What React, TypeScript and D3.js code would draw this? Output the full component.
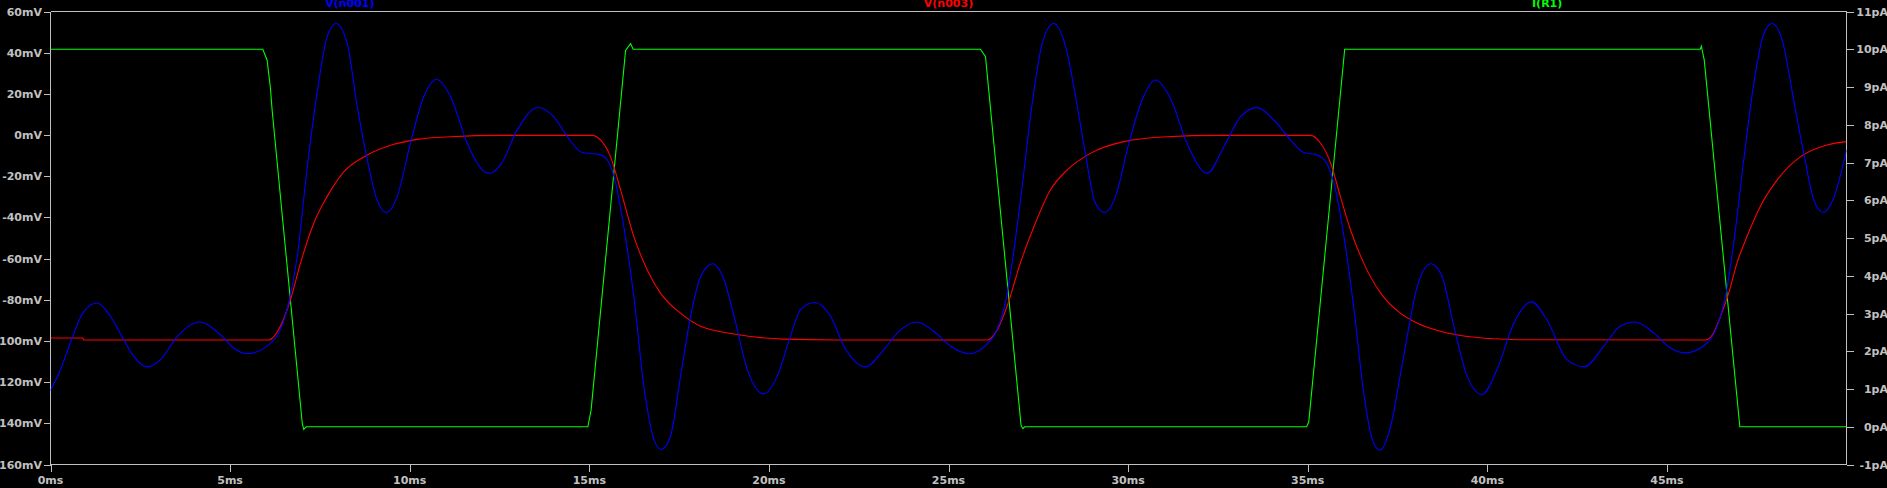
import React, { useEffect } from "react";
import * as d3 from "d3";

// V(n001) — blue trace (time ms, mV)
const blueT = [0, 0.28, 0.6, 0.93, 1.3, 1.67, 2.04, 2.32, 2.69, 3.06, 3.53, 4.15, 4.73, 5.1, 5.47, 6.08, 6.4, 6.63, 6.87, 7.15, 7.42, 7.7, 7.95, 8.26, 8.54, 8.82, 9.09, 9.35, 9.65, 10.02, 10.39, 10.75, 11.14, 11.6, 12.2, 12.53, 12.99, 13.57, 14.01, 14.39, 14.8, 15.27, 15.5, 15.69, 15.96, 16.24, 16.52, 16.8, 17.0, 17.26, 17.54, 17.82, 18.1, 18.44, 18.75, 19.03, 19.4, 19.86, 20.23, 20.6, 20.88, 21.27, 21.72, 22.09, 22.69, 23.2, 23.67, 24.13, 24.59, 25.06, 25.57, 26.03, 26.31, 26.54, 26.77, 27.05, 27.33, 27.61, 27.93, 28.26, 28.54, 28.81, 29.09, 29.35, 29.65, 30.02, 30.39, 30.76, 31.18, 31.64, 32.2, 32.67, 33.13, 33.59, 34.06, 34.52, 34.89, 35.26, 35.5, 35.73, 36.01, 36.29, 36.56, 36.8, 37.01, 37.31, 37.58, 37.77, 38.05, 38.43, 38.74, 39.07, 39.44, 39.85, 40.27, 40.74, 41.23, 41.66, 42.22, 42.7, 43.24, 43.7, 44.12, 44.63, 45.1, 45.51, 46.12, 46.4, 46.63, 46.86, 47.14, 47.42, 47.7, 47.93, 48.21, 48.53, 48.81, 49.09, 49.35, 49.64, 50.0];
const blueV = [-124, -113.9, -98.6, -85.6, -81.6, -88.1, -99.4, -107.5, -112.6, -109.1, -97.8, -90.8, -97, -103.4, -106.2, -101.8, -94.5, -81.6, -59, -15.3, 20.2, 47.7, 54.2, 44.5, 13.8, -12.1, -31.5, -37.6, -29.9, -4.0, 18.6, 27.0, 18.6, -4.0, -18.6, -14.5, 2.4, 13.4, 8.9, -0.8, -8.5, -9.4, -12.1, -20.2, -44.4, -78.4, -122, -147.9, -152.7, -146.3, -117.2, -88.1, -68.7, -62.5, -70.3, -88.1, -113.9, -125.7, -117.2, -97.8, -84.8, -81.3, -88.1, -102.6, -112.6, -104.2, -94.5, -90.8, -95.3, -102.6, -106.2, -102.3, -96.1, -84.8, -62.2, -25.0, 15.4, 44.5, 54.2, 42.9, 18.6, -8.9, -33.1, -37.6, -29.9, -4.0, 17.0, 26.7, 17.8, -4.0, -18.6, -5.6, 8.9, 13.3, 7.3, -2.4, -8.5, -9.7, -12.9, -23.4, -49.3, -84.8, -125.2, -147.9, -153.0, -141.4, -116.4, -97.8, -73.5, -62.5, -68.7, -92.9, -117.2, -126.0, -113.9, -91.3, -81.0, -89.7, -109.1, -112.6, -102.6, -92.9, -90.8, -96.1, -103.4, -105.8, -101.0, -92.9, -78.4, -52.5, -12.1, 25.1, 49.3, 54.2, 46.1, 17.0, -8.9, -31.5, -37.6, -30.7, -7.3];

// V(n003) — red trace (time ms, mV)
const redT = [0, 0.9, 0.92, 6.08, 6.4, 6.68, 6.96, 7.33, 7.7, 8.17, 8.82, 9.56, 10.21, 11.14, 12.53, 15.08, 15.31, 15.59, 15.87, 16.24, 16.61, 16.98, 17.54, 18.1, 19.03, 20.42, 21.8, 26.08, 26.36, 26.63, 27.0, 27.38, 27.84, 28.3, 28.95, 29.88, 31.09, 32.5, 35.08, 35.36, 35.64, 35.91, 36.19, 36.56, 37.03, 37.58, 38.04, 38.69, 39.44, 40.83, 46.07, 46.3, 46.49, 46.72, 46.95, 47.23, 47.6, 48.07, 48.72, 49.46, 50.0];
const redV = [-98.6, -98.6, -99.5, -99.5, -92.9, -80.0, -62.2, -42.8, -29.9, -17.8, -9.7, -4.5, -2.1, -0.8, -0.15, -0.15, -2.4, -10.5, -26.6, -49.3, -65.4, -76.8, -86.5, -92.9, -96.6, -99.1, -99.5, -99.5, -94.5, -83.2, -62.2, -44.4, -26.6, -17.0, -8.9, -3.2, -0.8, -0.15, -0.15, -4.0, -13.7, -29.9, -46.0, -62.2, -76.8, -86.5, -91.3, -95.3, -97.8, -99.4, -99.5, -96.1, -88.1, -76.8, -62.2, -49.3, -34.7, -21.8, -10.5, -4.8, -3.2];

// I(R1) — green trace (time ms, pA)
const greenT = [0, 5.91, 6.03, 6.12, 6.17, 7.01, 7.05, 7.12, 14.96, 15.05, 16.01, 16.15, 16.22, 25.89, 26.03, 27.02, 27.07, 27.12, 34.97, 35.03, 36.03, 45.93, 45.96, 46.04, 47.03, 50.0];
const greenI = [10, 10, 9.71, 9.0, 8.39, 0.08, -0.07, 0, 0, 0.44, 9.97, 10.15, 10.0, 10, 9.8, 0.04, -0.05, 0, 0, 0.13, 10.0, 10, 10.08, 9.71, 0, 0];

const leftTicks = [60, 40, 20, 0, -20, -40, -60, -80, -100, -120, -140, -160];
const rightTicks = [11, 10, 9, 8, 7, 6, 5, 4, 3, 2, 1, 0, -1];
const timeTicks = [0, 5, 10, 15, 20, 25, 30, 35, 40, 45];
const traceNames = ["V(n001)", "V(n003)", "I(R1)"];
const traceColors = ["#0000ff", "#ff0000", "#00ff00"];

const W = 1887;
const H = 488;
const left = 50.5, right = 1846.5, top = 11.5, bottom = 464.5;
const AX = "#c0c0c0";
const FONT = "'DejaVu Sans', sans-serif";

export default function App() {
  useEffect(() => {
    document.body.style.margin = "0";
    document.body.style.background = "#000";
  }, []);

  const x = d3.scaleLinear().domain([0, 50]).range([left, right]);
  const yL = d3.scaleLinear().domain([-160, 60]).range([bottom, top]);
  const yR = d3.scaleLinear().domain([-1, 11]).range([bottom, top]);

  const blue = blueT.map((t, i) => [t, blueV[i]] as [number, number]);
  const red = redT.map((t, i) => [t, redV[i]] as [number, number]);
  const green = greenT.map((t, i) => [t, greenI[i]] as [number, number]);

  const lineL = d3.line<[number, number]>().x(d => x(d[0])).y(d => yL(d[1])).curve(d3.curveMonotoneX);
  const lineR = d3.line<[number, number]>().x(d => x(d[0])).y(d => yR(d[1])).curve(d3.curveLinear);

  const labelX = [1 / 6, 3 / 6, 5 / 6].map(f => left + (right - left) * f);

  return (
    <svg width={W} height={H} style={{ position: "absolute", left: 0, top: 0, display: "block", background: "#000" }}>
      <rect x={0} y={0} width={W} height={H} fill="#000" />
      <defs>
        <clipPath id="plotclip">
          <rect x={left} y={top} width={right - left} height={bottom - top} />
        </clipPath>
      </defs>
      {/* frame */}
      <g stroke={AX} strokeWidth={1} shapeRendering="crispEdges" fill="none">
        <line x1={left} y1={top} x2={right} y2={top} />
        <line x1={left} y1={bottom} x2={right} y2={bottom} />
        <line x1={left} y1={top} x2={left} y2={bottom} />
        <line x1={right} y1={top} x2={right} y2={bottom} />
        {leftTicks.map(v => (
          <line key={"lt" + v} x1={left - 7} x2={left} y1={Math.round(yL(v)) + 0.5} y2={Math.round(yL(v)) + 0.5} />
        ))}
        {rightTicks.map(v => (
          <line key={"rt" + v} x1={right} x2={right + 7} y1={Math.round(yR(v)) + 0.5} y2={Math.round(yR(v)) + 0.5} />
        ))}
        {timeTicks.map(v => (
          <line key={"bt" + v} x1={Math.round(x(v)) + 0.5} x2={Math.round(x(v)) + 0.5} y1={bottom} y2={bottom + 7} />
        ))}
      </g>
      {/* traces */}
      <g clipPath="url(#plotclip)" fill="none" strokeWidth={1.1}>
        <path d={lineR(green) || ""} stroke={traceColors[2]} />
        <path d={lineL(red) || ""} stroke={traceColors[1]} />
        <path d={lineL(blue) || ""} stroke={traceColors[0]} />
      </g>
      {/* labels */}
      <g fontFamily={FONT} fontWeight="bold" fontSize={11} fill={AX}>
        {leftTicks.map(v => (
          <text key={"ll" + v} x={42} y={yL(v) + 4} textAnchor="end">{v + "mV"}</text>
        ))}
        {rightTicks.map(v => (
          <text key={"rl" + v} x={1888} y={yR(v) + 4} textAnchor="end">{v + "pA"}</text>
        ))}
        {timeTicks.map(v => (
          <text key={"bl" + v} x={x(v)} y={484} textAnchor="middle">{v + "ms"}</text>
        ))}
      </g>
      <g fontFamily={FONT} fontWeight="bold" fontSize={11}>
        {traceNames.map((n, i) => (
          <text key={n} x={labelX[i]} y={6.5} textAnchor="middle" fill={traceColors[i]}>{n}</text>
        ))}
      </g>
    </svg>
  );
}
